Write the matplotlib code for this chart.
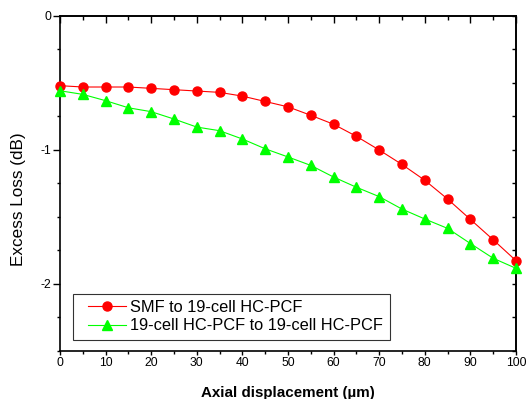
import matplotlib
matplotlib.use("Agg")
import matplotlib.pyplot as plt
from matplotlib.ticker import MultipleLocator
from matplotlib.legend_handler import HandlerLine2D

plt.rcParams['font.family'] = ['Liberation Sans', 'DejaVu Sans']
plt.rcParams['axes.unicode_minus'] = False

# axial displacement (um)
displacement = [0, 5, 10, 15, 20, 25, 30, 35, 40, 45, 50,
                55, 60, 65, 70, 75, 80, 85, 90, 95, 100]

# excess loss (dB)
smf_to_hcpcf = [-0.522, -0.532, -0.532, -0.532, -0.542, -0.552, -0.562, -0.572,
                -0.600, -0.640, -0.680, -0.743, -0.810, -0.900, -1.002, -1.110,
                -1.228, -1.368, -1.520, -1.672, -1.828]
hcpcf_to_hcpcf = [-0.560, -0.587, -0.634, -0.687, -0.716, -0.771, -0.831, -0.858,
                  -0.920, -0.993, -1.054, -1.117, -1.204, -1.280, -1.350, -1.443,
                  -1.517, -1.587, -1.700, -1.810, -1.885]

labels = ['SMF to 19-cell HC-PCF', '19-cell HC-PCF to 19-cell HC-PCF']

fig = plt.figure(figsize=(5.29, 3.99), dpi=100)
ax = fig.add_axes([0.1134, 0.121, 0.862, 0.8396])

l1, = ax.plot(displacement, smf_to_hcpcf, color='#ff0000', lw=0.8, marker='o',
              markersize=6.5, label=labels[0], clip_on=False, zorder=3)
l2, = ax.plot(displacement, hcpcf_to_hcpcf, color='#00ff00', lw=0.8, marker='^',
              markersize=7, label=labels[1], clip_on=False, zorder=3)

ax.set_xlim(0, 100)
ax.set_ylim(-2.5, 0)
ax.xaxis.set_major_locator(MultipleLocator(10))
ax.xaxis.set_minor_locator(MultipleLocator(5))
ax.yaxis.set_major_locator(MultipleLocator(1))
ax.yaxis.set_minor_locator(MultipleLocator(0.25))

for s in ax.spines.values():
    s.set_linewidth(1.2)

ax.tick_params(which='major', direction='out', length=3, width=1, labelsize=8.7, pad=1.5)
ax.tick_params(which='minor', direction='out', length=2, width=1)
ax.tick_params(axis='y', which='major', length=5)

# mirrored ticks on top / right point inward
top = ax.secondary_xaxis('top')
top.xaxis.set_major_locator(MultipleLocator(10))
top.xaxis.set_minor_locator(MultipleLocator(5))
top.tick_params(which='major', direction='in', length=5, width=1, labeltop=False)
top.tick_params(which='minor', direction='in', length=3, width=1)
right = ax.secondary_yaxis('right')
right.yaxis.set_major_locator(MultipleLocator(1))
right.yaxis.set_minor_locator(MultipleLocator(0.25))
right.tick_params(which='both', direction='in', length=3, width=1, labelright=False)
top.spines['top'].set_linewidth(1.2)
right.spines['right'].set_linewidth(1.2)

ax.set_xlabel('Axial displacement (\u00b5m)', fontsize=10.9, fontweight='bold', labelpad=12)
ax.set_ylabel('Excess Loss (dB)', fontsize=12.3)
ax.yaxis.set_label_coords(-0.075, 0.453)

leg = ax.legend(loc='lower left', bbox_to_anchor=(0.0285, 0.032), borderaxespad=0,
                fontsize=11.8, frameon=True, fancybox=False, edgecolor='black',
                handlelength=2.85, handletextpad=0.25, labelspacing=0.2, borderpad=0.4,
                handler_map={l1: HandlerLine2D(xpad=0.54), l2: HandlerLine2D(xpad=0.54)})
leg.get_frame().set_linewidth(0.8)

fig.savefig('out.png', dpi=100)
